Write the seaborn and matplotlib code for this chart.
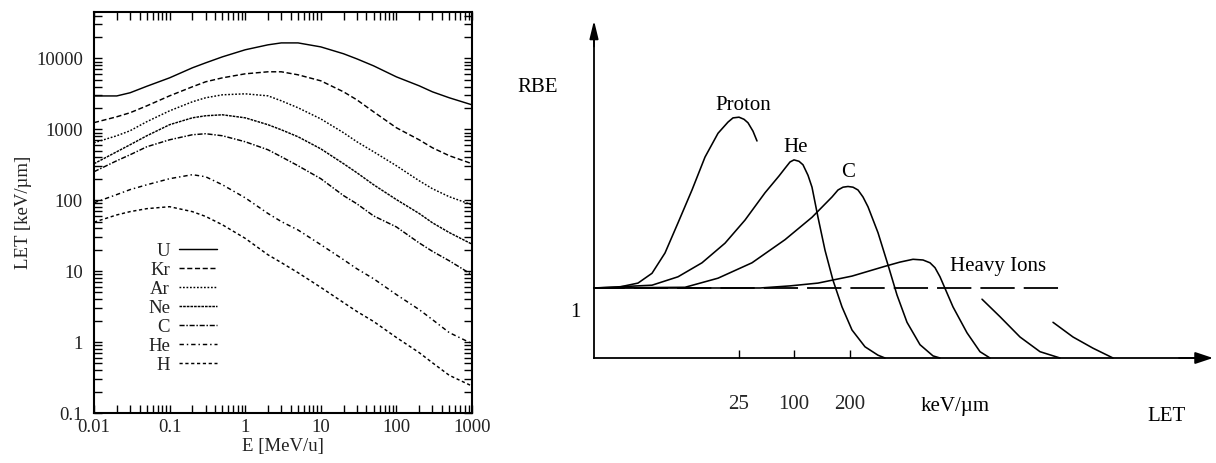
import numpy as np
import matplotlib
matplotlib.use("Agg")
import matplotlib.pyplot as plt
from matplotlib.ticker import LogLocator, NullFormatter
import seaborn as sns

# ---------------- left panel data: LET [keV/um] vs E [MeV/u] ----------------
energy = [0.01, 0.02, 0.03, 0.05, 0.1, 0.2, 0.3, 0.5, 1, 2, 3, 5, 10, 20, 30, 50,
          100, 200, 300, 500, 1000]
let_U = [2950, 2950, 3270, 4040, 5310, 7350, 8640, 10500, 13200, 15500, 16500, 16500,
         14500, 11600, 9830, 7830, 5480, 4100, 3370, 2780, 2210]
let_Kr = [1240, 1500, 1710, 2140, 2960, 3970, 4670, 5310, 6050, 6460, 6460, 5860,
          4820, 3370, 2600, 1760, 1050, 710, 548, 424, 327]
let_Ar = [645, 810, 953, 1280, 1820, 2440, 2780, 3060, 3160, 2960, 2520, 2010,
          1400, 893, 667, 482, 306, 188, 145, 112, 86]
let_Ne = [327, 482, 605, 810, 1160, 1450, 1550, 1600, 1450, 1160, 984, 784,
          530, 327, 244, 165, 102, 65, 48, 35, 24]
let_C = [252, 360, 437, 567, 711, 837, 865, 810, 667, 514, 410, 306,
         201, 116, 89, 60, 42, 25, 19, 14, 8.9]
let_He = [92, 120, 141, 165, 201, 229, 214, 165, 108, 65, 50, 38,
          23.6, 14.5, 10.8, 7.8, 4.67, 2.87, 2.07, 1.36, 0.95]
let_H = [49, 62, 69, 76, 81, 69, 59, 45, 29, 17, 13.2, 9.5,
         5.9, 3.6, 2.7, 1.95, 1.16, 0.71, 0.51, 0.34, 0.24]
ions = ["U", "Kr", "Ar", "Ne", "C", "He", "H"]
x_ticks = [0.01, 0.1, 1, 10, 100, 1000]
x_tick_labels = ["0.01", "0.1", "1", "10", "100", "1000"]
y_ticks = [0.1, 1, 10, 100, 1000, 10000]
y_tick_labels = ["0.1", "1", "10", "100", "1000", "10000"]

# ---------------- right panel data: schematic RBE vs LET ----------------
proton_let = [0, 24, 44, 58, 71, 84, 98, 111, 124, 134, 139, 145, 150, 154, 159, 163]
proton_rbe = [1.0, 1.01, 1.07, 1.21, 1.5, 1.93, 2.4, 2.87, 3.21, 3.37, 3.43, 3.44, 3.41, 3.36, 3.24, 3.1]
he_let = [0, 58, 84, 108, 131, 151, 171, 185, 191, 196, 200, 205, 209, 214, 218, 224,
          231, 239, 248, 258, 271, 284, 291]
he_rbe = [1.0, 1.04, 1.16, 1.36, 1.64, 1.97, 2.36, 2.6, 2.71, 2.8, 2.83, 2.81, 2.76, 2.61, 2.44, 2.01,
          1.54, 1.11, 0.73, 0.4, 0.16, 0.04, 0.0]
c_let = [0, 91, 124, 158, 191, 218, 238, 244, 249, 254, 259, 264, 269, 274, 284, 294,
         303, 313, 326, 339, 346]
c_rbe = [1.0, 1.01, 1.14, 1.36, 1.69, 2.01, 2.3, 2.4, 2.44, 2.45, 2.44, 2.4, 2.3, 2.16, 1.79, 1.33,
         0.9, 0.51, 0.19, 0.03, 0.0]
heavy_let = [0, 166, 196, 224, 258, 291, 306, 319, 329, 336, 341, 346, 359, 373, 386, 396]
heavy_rbe = [1.0, 1.0, 1.03, 1.07, 1.17, 1.31, 1.37, 1.41, 1.4, 1.36, 1.29, 1.16, 0.73, 0.36, 0.09, 0.0]
frag1_let = [388, 406, 426, 446, 466]
frag1_rbe = [0.84, 0.59, 0.3, 0.09, 0.0]
frag2_let = [459, 479, 499, 519]
frag2_rbe = [0.51, 0.3, 0.14, 0.0]
ref_let = [0, 466]
ref_rbe = [1.0, 1.0]
let_tick_pos = [145, 200, 256]
let_tick_labels = ["25", "100", "200"]

# ---------------- styling ----------------
sns.set_theme(style="white")
plt.rcParams["font.family"] = ["Liberation Serif", "DejaVu Serif"]

fig = plt.figure(figsize=(12.16, 4.63), dpi=100)
axR = fig.add_axes([480 / 1216, 0.0, 736 / 1216, 1.0])
axL = fig.add_axes([94 / 1216, 50 / 463, 378 / 1216, 401 / 463])

line_styles = {
    "U": "-",
    "Kr": (0, (3.5, 1.8)),
    "Ar": (0, (1.2, 1.2)),
    "Ne": (0, (1.8, 0.7)),
    "C": (0, (3.5, 1.2, 1.0, 1.2)),
    "He": (0, (3.0, 2.0, 1.0, 2.0)),
    "H": (0, (2.2, 1.8)),
}
series = [let_U, let_Kr, let_Ar, let_Ne, let_C, let_He, let_H]
for name, vals in zip(ions, series):
    sns.lineplot(x=energy, y=vals, ax=axL, color="black", linewidth=1.05,
                 linestyle=line_styles[name], label=name, errorbar=None)

axL.set_xscale("log")
axL.set_yscale("log")
axL.set_xlim(0.01, 1000)
axL.set_ylim(0.1, 45000)
axL.set_xticks(x_ticks, labels=x_tick_labels)
axL.set_yticks(y_ticks, labels=y_tick_labels)
for axis in (axL.xaxis, axL.yaxis):
    axis.set_minor_locator(LogLocator(base=10, subs=np.arange(2, 10), numticks=100))
    axis.set_minor_formatter(NullFormatter())
axL.tick_params(which="both", direction="in", top=True, right=True, bottom=True, left=True,
                length=5.5, width=1.0, color="black", labelsize=13.5, labelcolor="#222222")
axL.tick_params(axis="x", which="both", pad=4)
axL.tick_params(axis="y", which="both", pad=8)
for sp in axL.spines.values():
    sp.set_color("black")
    sp.set_linewidth(1.5)
axL.set_xlabel("E [MeV/u]", fontsize=13.5, labelpad=2, color="#222222")
axL.set_ylabel("LET [keV/µm]", fontsize=13.5, labelpad=3, color="#222222")
axL.legend(loc="center right", bbox_to_anchor=(0.325, 0.261), frameon=False,
           markerfirst=False, fontsize=13.5, handlelength=2.0, handletextpad=0.5,
           labelspacing=0.1, borderpad=0, borderaxespad=0, labelcolor="#222222")

# ---------------- right panel ----------------
axR.set_xlim(-114, 622)
axR.set_ylim(-1.5, 5.114)
for xs, ys in [(proton_let, proton_rbe), (he_let, he_rbe), (c_let, c_rbe),
               (heavy_let, heavy_rbe), (frag1_let, frag1_rbe), (frag2_let, frag2_rbe)]:
    sns.lineplot(x=xs, y=ys, ax=axR, color="black", linewidth=1.15, sort=False, errorbar=None)
sns.lineplot(x=ref_let, y=ref_rbe, ax=axR, color="black", linewidth=1.3,
             linestyle=(2, (19, 5)), errorbar=None)

axR.patch.set_visible(False)
axR.spines["top"].set_visible(False)
axR.spines["right"].set_visible(False)
for key, bounds in (("left", (0, 4.6)), ("bottom", (0, 600))):
    sp = axR.spines[key]
    sp.set_position(("data", 0))
    sp.set_bounds(*bounds)
    sp.set_color("black")
    sp.set_linewidth(1.3)
axR.annotate("", xy=(0, 4.82), xytext=(0, 4.45),
             arrowprops=dict(arrowstyle="-|>,head_length=0.9,head_width=0.22", color="black",
                             lw=1.3, shrinkA=0, shrinkB=0, mutation_scale=12))
axR.annotate("", xy=(619, 0), xytext=(585, 0),
             arrowprops=dict(arrowstyle="-|>,head_length=0.9,head_width=0.3", color="black",
                             lw=1.3, shrinkA=0, shrinkB=0, mutation_scale=12))
axR.set_yticks([])
axR.set_xticks(let_tick_pos, labels=let_tick_labels)
axR.tick_params(axis="x", bottom=True, direction="in", length=6, width=1.0, color="black",
                labelsize=15, pad=27)

txt = dict(fontsize=15, ha="center", va="center", color="black")
axR.text(-56, 3.871, "RBE", **txt)
axR.text(-19, 0.643, "1", **txt)
axR.text(361, -0.7, "keV/µm", **txt)
axR.text(573, -0.83, "LET", **txt)
axR.text(149, 3.614, "Proton", **txt)
axR.text(202, 3.0, "He", **txt)
axR.text(254, 2.643, "C", **txt)
axR.text(404, 1.3, "Heavy Ions", **txt)

fig.savefig("out.png", dpi=100)
